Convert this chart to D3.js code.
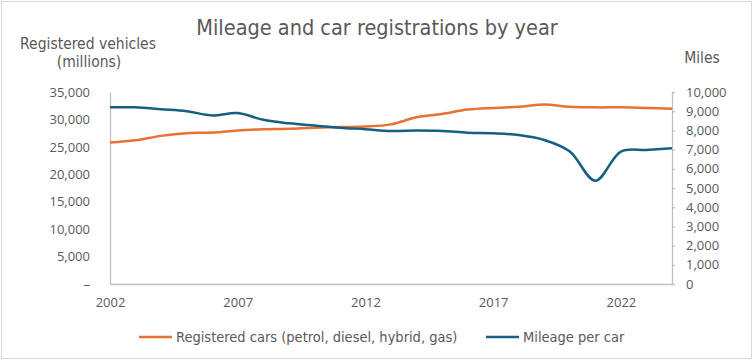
<!DOCTYPE html>
<html>
<head>
<meta charset="utf-8">
<script src="https://cdn.jsdelivr.net/npm/d3@7"></script>
<style>
  body { margin: 0; background: #fff; }
  .narrow { font-family: "DejaVu Sans Condensed", "Liberation Sans Narrow", sans-serif; }
  .tick text { font-family: "Open Sans", sans-serif; font-size: 13px; fill: #595959; }
</style>
</head>
<body>
<script>
// chart data
var years = [2002, 2003, 2004, 2005, 2006, 2007, 2008, 2009, 2010, 2011, 2012, 2013,
             2014, 2015, 2016, 2017, 2018, 2019, 2020, 2021, 2022, 2023, 2024];
var registeredCars = [25800, 26200, 27000, 27500, 27600, 28000, 28200, 28300, 28500, 28600, 28700, 29100,
                      30400, 31000, 31800, 32100, 32300, 32700, 32300, 32200, 32200, 32100, 31950];
var mileagePerCar = [9200, 9200, 9100, 9000, 8780, 8900, 8550, 8370, 8250, 8140, 8060, 7970,
                     7990, 7970, 7880, 7850, 7760, 7500, 6900, 5380, 6900, 6980, 7070];
var leftTicks = [0, 5000, 10000, 15000, 20000, 25000, 30000, 35000];
var rightTicks = [0, 1000, 2000, 3000, 4000, 5000, 6000, 7000, 8000, 9000, 10000];
var xTicks = [2002, 2007, 2012, 2017, 2022];
var seriesNames = ["Registered cars (petrol, diesel, hybrid, gas)", "Mileage per car"];

var W = 754, H = 362;
var plot = {left: 110, right: 672, top: 92, bottom: 284};
var orange = "#E97132", blue = "#156082", axisGrey = "#BFBFBF", textGrey = "#595959";

var svg = d3.select("body").append("svg")
    .attr("width", W)
    .attr("height", H);

// outer frame
svg.append("rect")
    .attr("x", 1.5).attr("y", 1.5)
    .attr("width", 750).attr("height", 357)
    .attr("fill", "#fff")
    .attr("stroke", "#D9D9D9");

var x = d3.scaleLinear().domain([2002, 2024]).range([plot.left, plot.right]);
var yLeft = d3.scaleLinear().domain([0, 35000]).range([plot.bottom, plot.top]);
var yRight = d3.scaleLinear().domain([0, 10000]).range([plot.bottom, plot.top]);

var fmt = d3.format(",");

// left axis (no tick marks, dash for zero)
var gl = svg.append("g")
    .attr("transform", "translate(" + plot.left + ",0)")
    .call(d3.axisLeft(yLeft).tickValues(leftTicks).tickSize(0).tickPadding(20)
      .tickFormat(function(d) { return d === 0 ? "–" : fmt(d); }));
gl.select(".domain").attr("stroke", axisGrey).attr("stroke-width", 1.3);

// right axis with outward ticks
var gr = svg.append("g")
    .attr("transform", "translate(" + plot.right + ",0)")
    .call(d3.axisRight(yRight).tickValues(rightTicks).tickSizeInner(3).tickSizeOuter(0).tickPadding(11)
      .tickFormat(fmt));
gr.select(".domain").attr("stroke", axisGrey).attr("stroke-width", 1.3);
gr.selectAll(".tick line").attr("stroke", axisGrey).attr("stroke-width", 1.3);

// bottom axis
var gb = svg.append("g")
    .attr("transform", "translate(0," + plot.bottom + ")")
    .call(d3.axisBottom(x).tickValues(xTicks).tickSize(0).tickPadding(14)
      .tickFormat(d3.format("d")));
gb.select(".domain").attr("stroke", axisGrey).attr("stroke-width", 1.3);

// lines
var lineLeft = d3.line()
    .x(function(d, i) { return x(years[i]); })
    .y(function(d) { return yLeft(d); })
    .curve(d3.curveCatmullRom);
var lineRight = d3.line()
    .x(function(d, i) { return x(years[i]); })
    .y(function(d) { return yRight(d); })
    .curve(d3.curveCatmullRom);

svg.append("path")
    .attr("d", lineLeft(registeredCars))
    .attr("fill", "none")
    .attr("stroke", orange)
    .attr("stroke-width", 2.5);
svg.append("path")
    .attr("d", lineRight(mileagePerCar))
    .attr("fill", "none")
    .attr("stroke", blue)
    .attr("stroke-width", 2.5);

// titles
svg.append("text")
    .attr("class", "narrow")
    .attr("x", 377).attr("y", 35)
    .attr("text-anchor", "middle")
    .style("font-size", "21.5px")
    .style("fill", textGrey)
    .text("Mileage and car registrations by year");
svg.append("text")
    .attr("class", "narrow")
    .attr("x", 88).attr("y", 49)
    .attr("text-anchor", "middle")
    .style("font-size", "15.5px")
    .style("fill", textGrey)
    .text("Registered vehicles")
  .append("tspan")
    .attr("x", 89).attr("y", 67)
    .text("(millions)");
svg.append("text")
    .attr("class", "narrow")
    .attr("x", 702).attr("y", 63)
    .attr("text-anchor", "middle")
    .style("font-size", "15.5px")
    .style("fill", textGrey)
    .text("Miles");

// legend
var legendX = [139, 486];
var legendColors = [orange, blue];
var lg = svg.append("g").selectAll("g")
    .data(seriesNames)
  .enter().append("g")
    .attr("transform", function(d, i) { return "translate(" + legendX[i] + ",337)"; });
lg.append("line")
    .attr("x1", 0).attr("x2", 33)
    .attr("stroke", function(d, i) { return legendColors[i]; })
    .attr("stroke-width", 2.5);
lg.append("text")
    .attr("class", "narrow")
    .attr("x", 37).attr("y", 5)
    .style("font-size", "14.5px")
    .style("fill", textGrey)
    .text(function(d) { return d; });
</script>
</body>
</html>
